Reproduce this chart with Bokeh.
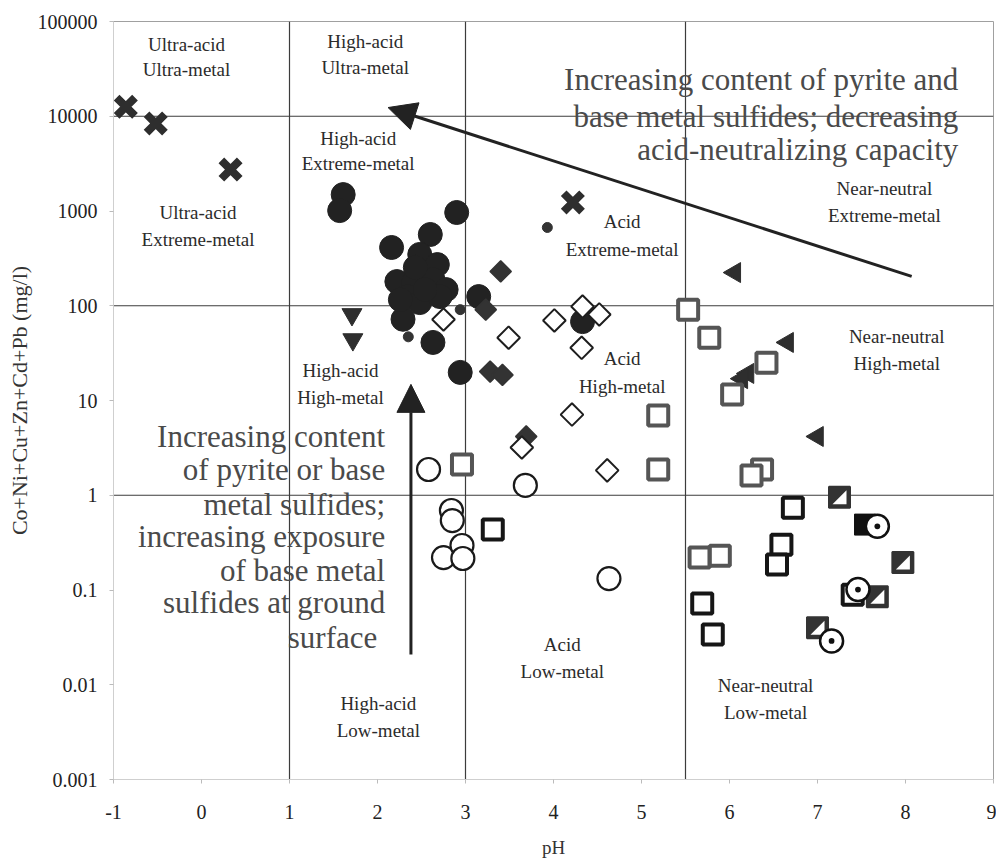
import numpy as np
from bokeh.plotting import figure
from bokeh.models import (FixedTicker, CustomJSTickFormatter, Span, Arrow,
                          NormalHead)
from bokeh.core.properties import value
from bokeh.embed import file_html
from bokeh.resources import INLINE

# ---------------- data ----------------
x_ticks = [-1, 0, 1, 2, 3, 4, 5, 6, 7, 8, 9]
y_ticks = [0.001, 0.01, 0.1, 1, 10, 100, 1000, 10000, 100000]
ph_bounds = [1, 3, 5.5]
metal_bounds = [1, 100, 10000]

cross_ph = [-0.86, -0.52, 0.33, 4.22]
cross_metal = [12600, 8400, 2740, 1230]

fcirc_ph = [1.61, 1.57, 2.90, 2.16, 2.60, 2.48, 2.68, 2.22, 2.41, 2.63, 2.78,
            2.34, 2.48, 2.71, 3.15, 2.29, 2.63, 2.94, 4.33, 2.43, 2.54, 2.26]
fcirc_metal = [1490, 1010, 964, 412, 565, 348, 272, 180, 176, 189, 148,
               125, 108, 125, 125, 72, 41, 19.8, 68, 254, 148, 116]

small_ph = [3.93, 2.35, 2.94]
small_metal = [670, 47, 91]

fdia_ph = [3.40, 3.23, 3.28, 3.42, 3.69]
fdia_metal = [230, 91, 20.2, 18.6, 4.17]

odia_ph = [2.75, 3.49, 4.01, 4.33, 4.52, 4.32, 4.21, 3.64, 4.61]
odia_metal = [71.6, 46, 70, 98, 81, 36, 7.1, 3.19, 1.83]

dtri_ph = [1.71, 1.72]
dtri_metal = [81, 44]

ltri_ph = [6.06, 6.66, 6.21, 6.14, 7.00]
ltri_metal = [224, 41, 19.3, 17.0, 4.17]

gsq_ph = [2.96, 5.53, 5.77, 5.19, 5.19, 6.42, 6.03, 6.37, 6.25, 5.66, 5.89]
gsq_metal = [2.11, 91, 46, 6.95, 1.87, 25, 11.6, 1.87, 1.62, 0.22, 0.23]

bsq_ph = [3.31, 6.72, 6.59, 6.54, 5.69, 5.81, 7.40]
bsq_metal = [0.435, 0.74, 0.30, 0.186, 0.072, 0.034, 0.089]

ocirc_ph = [2.58, 3.68, 2.84, 2.85, 2.75, 2.96, 2.97, 4.63]
ocirc_metal = [1.87, 1.27, 0.69, 0.54, 0.22, 0.295, 0.215, 0.132]

half_ph = [7.25, 7.97, 7.68, 7.00]
half_metal = [0.95, 0.195, 0.085, 0.040]

fsq_ph = [7.54]
fsq_metal = [0.49]

dot_ph = [7.68, 7.46, 7.16]
dot_metal = [0.47, 0.101, 0.029]

# ---------------- figure ----------------
p = figure(width=996, height=861, x_range=(-1, 9), y_range=(0.001, 100000),
           y_axis_type="log", output_backend="svg", toolbar_location=None,
           min_border_left=113, min_border_right=3, min_border_top=21,
           min_border_bottom=82, background_fill_color="white")
p.grid.visible = False
p.outline_line_color = "#a0a0a0"
p.outline_line_width = 1

p.xaxis.ticker = FixedTicker(ticks=x_ticks)
p.xaxis.formatter = CustomJSTickFormatter(code="return String(tick);")
p.yaxis.ticker = FixedTicker(ticks=y_ticks)
p.yaxis.formatter = CustomJSTickFormatter(code="""
const e = Math.round(Math.log10(tick));
return e < 0 ? tick.toFixed(-e) : String(Math.round(tick));
""")
for ax in (p.xaxis[0], p.yaxis[0]):
    ax.axis_line_color = "#cfcfcf"
    ax.major_tick_line_color = "#bbbbbb"
    ax.major_tick_out = 4
    ax.major_tick_in = 0
    ax.minor_tick_line_color = None
    ax.major_label_text_font = "Liberation Serif"
    ax.major_label_text_font_size = "20px"
    ax.major_label_text_color = "#222222"
    ax.axis_label_text_font = "Liberation Serif"
    ax.axis_label_text_font_style = "normal"
    ax.axis_label_text_color = "#333333"

p.xaxis.axis_label = "pH"
p.xaxis.axis_label_text_font_size = "19px"
p.xaxis.major_label_standoff = 21
p.xaxis.axis_label_standoff = 15
p.yaxis.axis_label = "Co+Ni+Cu+Zn+Cd+Pb (mg/l)"
p.yaxis.axis_label_text_font_size = "22px"
p.yaxis.major_label_standoff = 12
p.yaxis.axis_label_standoff = 3

# region boundaries
for v in ph_bounds:
    p.add_layout(Span(location=v, dimension="height", line_color="#3c3c3c",
                      line_width=1.2, level="underlay"))
for v in metal_bounds:
    p.add_layout(Span(location=v, dimension="width", line_color="#3c3c3c",
                      line_width=1.2, level="underlay"))

# region labels (one entry per text line)
reg_t = ["Ultra-acid", "Ultra-metal", "High-acid", "Ultra-metal",
         "High-acid", "Extreme-metal", "Ultra-acid", "Extreme-metal",
         "Acid", "Extreme-metal", "Near-neutral", "Extreme-metal",
         "Near-neutral", "High-metal", "High-acid", "High-metal",
         "Acid", "High-metal", "Acid", "Low-metal",
         "High-acid", "Low-metal", "Near-neutral", "Low-metal"]
reg_x = [-0.17, -0.17, 1.86, 1.86, 1.78, 1.78, -0.04, -0.04,
         4.78, 4.78, 7.76, 7.76, 7.90, 7.90, 1.58, 1.58,
         4.78, 4.78, 4.10, 4.10, 2.01, 2.01, 6.41, 6.41]
reg_e = [4.757, 4.493, 4.789, 4.515, 3.765, 3.501, 2.984, 2.699,
         2.889, 2.594, 3.238, 2.953, 1.675, 1.390, 1.317, 1.032,
         1.443, 1.148, -1.575, -1.860, -2.198, -2.483, -2.008, -2.293]
p.text(x=reg_x, y=[10 ** e for e in reg_e], text=reg_t,
       text_font=value("Liberation Serif"), text_font_size="19px",
       text_align="center", text_baseline="middle", text_color="#2b2b2b")

# large annotations
top_t = ["Increasing content of pyrite and",
         "base metal sulfides; decreasing",
         "acid-neutralizing capacity"]
top_e = [4.388, 3.997, 3.649]
p.text(x=[8.60] * 3, y=[10 ** e for e in top_e], text=top_t,
       text_font=value("Liberation Serif"), text_font_size="31px",
       text_align="right", text_baseline="middle", text_color="#4a4a4a")

left_t = ["Increasing content", "of pyrite or base", "metal sulfides;",
          "increasing exposure", "of base metal", "sulfides at ground",
          "surface"]
left_x = [2.087, 2.087, 2.087, 2.087, 2.087, 2.087, 1.997]
left_e = [0.620, 0.272, -0.098, -0.435, -0.794, -1.132, -1.501]
p.text(x=left_x, y=[10 ** e for e in left_e], text=left_t,
       text_font=value("Liberation Serif"), text_font_size="31px",
       text_align="right", text_baseline="middle", text_color="#4a4a4a")

# ---------------- markers ----------------
p.scatter(cross_ph, cross_metal, marker="x", size=26, line_width=8,
          line_color="#2e2e2e")
p.scatter(fcirc_ph, fcirc_metal, marker="circle", size=24,
          fill_color="#222222", line_color="#222222")
p.scatter(small_ph, small_metal, marker="circle", size=10,
          fill_color="#333333", line_color="#333333")
p.scatter(fdia_ph, fdia_metal, marker="square", angle=np.pi / 4, size=15,
          fill_color="#333333", line_color="#333333", line_width=1.5)
p.scatter(odia_ph, odia_metal, marker="square", angle=np.pi / 4, size=16,
          fill_color="white", line_color="#1e1e1e", line_width=2)
p.scatter(dtri_ph, dtri_metal, marker="inverted_triangle", size=20,
          fill_color="#2e2e2e", line_color="#2e2e2e")
p.scatter(ltri_ph, ltri_metal, marker="triangle", angle=np.pi / 2, size=20,
          fill_color="#2e2e2e", line_color="#2e2e2e")
p.scatter(gsq_ph, gsq_metal, marker="square", size=20, fill_color="white",
          line_color="#555555", line_width=4)
p.scatter(bsq_ph, bsq_metal, marker="square", size=20, fill_color="white",
          line_color="#161616", line_width=4)
p.scatter(ocirc_ph, ocirc_metal, marker="circle", size=23, fill_color="white",
          line_color="#1a1a1a", line_width=2.2)

# half-filled squares: dark square with white lower-right triangle
p.scatter(half_ph, half_metal, marker="square", size=21, fill_color="#333333",
          line_color="#333333", line_width=2)
dx = 7.0 / 88.1
k = 10 ** (7.0 / 94.75)
tri_xs = [[x - dx, x + dx, x + dx] for x in half_ph]
tri_ys = [[y / k, y / k, y * k] for y in half_metal]
p.patches(tri_xs, tri_ys, fill_color="white", line_color=None)

p.scatter(fsq_ph, fsq_metal, marker="square", size=21, fill_color="#111111",
          line_color="#111111")
p.scatter(dot_ph, dot_metal, marker="circle_dot", size=23, fill_color="white",
          line_color="#111111", line_width=2.5)

# ---------------- arrows ----------------
p.add_layout(Arrow(end=NormalHead(size=28, fill_color="#222222",
                                  line_color="#222222"),
                   x_start=8.07, y_start=204, x_end=2.12, y_end=12360,
                   line_width=3, line_color="#222222"))
p.add_layout(Arrow(end=NormalHead(size=28, fill_color="#222222",
                                  line_color="#222222"),
                   x_start=2.38, y_start=0.0208, x_end=2.38, y_end=14.8,
                   line_width=3, line_color="#222222"))

open("out.html", "w").write(file_html(p, INLINE))
